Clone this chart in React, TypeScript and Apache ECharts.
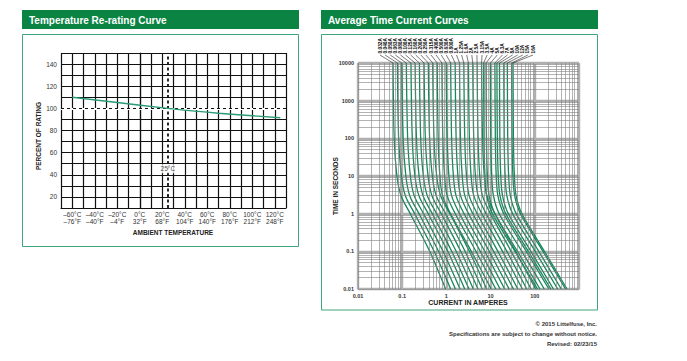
import React, { useEffect, useRef } from "react";
import * as echarts from "echarts";

// ---- Temperature re-rating data ----
const tempC = [-60, -40, -20, 0, 20, 40, 60, 80, 100, 120];
const tempF = [-76, -40, -4, 32, 68, 104, 140, 176, 212, 248];
const pctTicks = [20, 40, 60, 80, 100, 120, 140];
const rerateTemp = [-60, -20, 25, 70, 125];
const reratePct = [110, 105.3, 100, 95.6, 91.5];

// ---- Time current curves ----
const timeTicks = [0.01, 0.1, 1, 10, 100, 1000, 10000];
const currentTicks = [0.01, 0.1, 1, 10, 100];
const ratings = [
  "0.032A", "0.040A", "0.050A", "0.063A", "0.080A", "0.100A", "0.125A", "0.160A",
  "0.200A", "0.250A", "0.315A", "0.400A", "0.500A", "0.630A", "0.800A",
  "1A", "1.25A", "1.6A", "2A", "2.5A", "3.15A", "3.5A", "4A", "5A", "6.3A", "7A",
  "8A", "10A", "12A", "15A", "16A",
];
// time points (seconds) at which each curve's current is read
const times = [10000, 100, 10, 3, 1, 0.1, 0.01];
// current (A) of each curve at the times above
const curveCurrents = [
  [0.062, 0.066, 0.076, 0.094, 0.152, 0.419, 0.96],
  [0.078, 0.083, 0.096, 0.118, 0.191, 0.527, 1.25],
  [0.098, 0.105, 0.121, 0.148, 0.24, 0.662, 1.6],
  [0.124, 0.133, 0.153, 0.187, 0.304, 0.838, 2.04],
  [0.158, 0.169, 0.194, 0.239, 0.387, 1.07, 2.6],
  [0.196, 0.21, 0.241, 0.296, 0.48, 1.32, 3.25],
  [0.245, 0.262, 0.301, 0.37, 0.6, 1.66, 4.07],
  [0.312, 0.334, 0.384, 0.471, 0.764, 2.11, 5.18],
  [0.39, 0.417, 0.48, 0.589, 0.956, 2.64, 6.47],
  [0.49, 0.524, 0.603, 0.74, 1.2, 3.31, 8.13],
  [0.62, 0.651, 0.713, 0.818, 1.24, 3.66, 10.3],
  [0.79, 0.83, 0.909, 1.04, 1.58, 4.66, 13.1],
  [0.99, 1.04, 1.14, 1.31, 1.98, 5.84, 16.4],
  [1.25, 1.31, 1.44, 1.65, 2.5, 7.38, 20.8],
  [1.58, 1.66, 1.82, 2.09, 3.16, 9.32, 26.2],
  [1.98, 2.08, 2.28, 2.61, 3.96, 11.7, 32.9],
  [2.48, 2.6, 2.85, 3.27, 4.96, 14.6, 41.2],
  [3.15, 3.31, 3.62, 4.16, 6.3, 18.6, 52.3],
  [3.95, 4.15, 4.54, 5.21, 7.9, 23.3, 65.6],
  [4.95, 5.2, 5.69, 6.53, 9.9, 29.2, 82.2],
  [6.25, 6.56, 7.19, 8.25, 12.5, 36.9, 104],
  [6.95, 7.09, 7.44, 8.13, 11.0, 35.7, 115],
  [7.9, 8.06, 8.45, 9.24, 12.5, 40.5, 131],
  [9.9, 10.1, 10.6, 11.6, 15.6, 50.8, 164],
  [12.5, 12.8, 13.4, 14.6, 19.8, 64.1, 208],
  [13.9, 14.2, 14.9, 16.3, 22.0, 71.3, 231],
  [15.9, 16.2, 17.0, 18.6, 25.1, 81.6, 264],
  [19.9, 20.3, 21.3, 23.3, 31.4, 102, 330],
  [23.9, 24.4, 25.6, 28.0, 37.8, 123, 397],
  [29.9, 30.5, 32.0, 35.0, 47.2, 153, 496],
  [32.2, 32.8, 34.5, 37.7, 50.9, 165, 535],
];

const GREEN = "#0b8443";
const CURVE = "#17865c";
const BORDER = "#3ea57c";
const FONT = "Liberation Sans";

const dash = (n: number) => (n < 0 ? "\u2013" + Math.abs(n) : String(n));

function minorValues(from: number, to: number) {
  const out: number[] = [];
  for (let d = from; d < to * 0.999; d *= 10) {
    for (let k = 2; k <= 9; k++) out.push(+(d * k).toPrecision(3));
  }
  return out;
}

export default function App() {
  const ref = useRef<HTMLDivElement>(null);
  useEffect(() => {
    document.body.style.margin = "0";
    const chart = echarts.init(ref.current!, null, { renderer: "svg" });

    const minorX = minorValues(0.01, 1000);
    const minorY = minorValues(0.01, 10000);

    const logLabel = (v: number) => String(+Number(v).toPrecision(6));

    const series: any[] = [
      {
        type: "line",
        xAxisIndex: 0,
        yAxisIndex: 0,
        data: rerateTemp.map((t, i) => [t, reratePct[i]]),
        symbol: "none",
        smooth: 0.3,
        lineStyle: { color: "#2a9a78", width: 1.4 },
        z: 5,
        markLine: {
          silent: true,
          symbol: "none",
          label: { show: false },
          data: [
            { yAxis: 100, lineStyle: { color: "#fff", width: 2.2, type: "solid" } },
            { yAxis: 100, lineStyle: { color: "#111", width: 1.2, type: [3, 3] } },
            { xAxis: 25, lineStyle: { color: "#111", width: 1.8, type: [3, 2.5] } },
          ],
        },
      },
      {
        type: "scatter",
        xAxisIndex: 0,
        yAxisIndex: 0,
        data: [[25, 45.5]],
        symbolSize: 0,
        z: 6,
        label: {
          show: true,
          position: "inside",
          formatter: "25\u00b0C",
          fontSize: 6.5,
          fontFamily: FONT,
          color: "#222",
          backgroundColor: "#fff",
          padding: [1, 1],
        },
      },
      {
        type: "line",
        xAxisIndex: 1,
        yAxisIndex: 1,
        data: [],
        z: 1,
        markLine: {
          silent: true,
          symbol: "none",
          label: { show: false },
          lineStyle: { color: "#808080", width: 0.6, type: "solid" },
          data: [
            ...minorX.map((v) => ({ xAxis: v })),
            ...minorY.map((v) => ({ yAxis: v })),
          ],
        },
      },
      ...curveCurrents.map((cur, i) => ({
        type: "line",
        name: ratings[i],
        xAxisIndex: 1,
        yAxisIndex: 1,
        data: cur.map((c, j) => [c, times[j]]),
        symbol: "none",
        smooth: 0.3,
        lineStyle: { color: CURVE, width: 1.3 },
        z: 4,
      })),
    ];

    const option: any = {
      animation: false,
      backgroundColor: "#fff",
      grid: [
        { left: 61, top: 53, width: 225, height: 155 },
        { left: 358, top: 63, width: 221, height: 226 },
      ],
      xAxis: [
        {
          gridIndex: 0,
          type: "value",
          min: -70,
          max: 130,
          interval: 10,
          axisLine: { show: true, lineStyle: { color: "#111", width: 1.2 } },
          axisTick: { show: false },
          splitLine: { show: true, lineStyle: { color: "#111", width: 1.2 } },
          axisLabel: {
            fontSize: 6.5,
            lineHeight: 7,
            margin: 3,
            color: "#333",
            fontFamily: FONT,
            formatter: (v: number) => {
              const i = tempC.indexOf(Math.round(v));
              if (i < 0) return "";
              return `${dash(tempC[i])}\u00b0C\n${dash(tempF[i])}\u00b0F`;
            },
          },
        },
        {
          gridIndex: 1,
          type: "log",
          logBase: 10,
          min: 0.01,
          max: 1000,
          splitNumber: 5,
          axisLine: { show: true, lineStyle: { color: "#999", width: 1 } },
          axisTick: { show: false },
          minorTick: { show: false },
          splitLine: { show: true, lineStyle: { color: "#b0b0b0", width: 2.4 } },
          axisLabel: {
            fontSize: 5.5,
            fontWeight: "bold",
            margin: 4,
            color: "#333",
            fontFamily: FONT,
            formatter: (v: number) =>
              currentTicks.some((t) => Math.abs(t - v) / t < 1e-6) ? logLabel(v) : "",
          },
        },
      ],
      yAxis: [
        {
          gridIndex: 0,
          type: "value",
          min: 10,
          max: 150,
          interval: 10,
          axisLine: { show: true, lineStyle: { color: "#111", width: 1.2 } },
          axisTick: { show: false },
          splitLine: { show: true, lineStyle: { color: "#111", width: 1.2 } },
          axisLabel: {
            fontSize: 6.5,
            margin: 4,
            color: "#333",
            fontFamily: FONT,
            formatter: (v: number) => (pctTicks.includes(v) ? String(v) : ""),
          },
        },
        {
          gridIndex: 1,
          type: "log",
          logBase: 10,
          min: 0.01,
          max: 10000,
          splitNumber: 6,
          axisLine: { show: true, lineStyle: { color: "#999", width: 1 } },
          axisTick: { show: false },
          minorTick: { show: false },
          splitLine: { show: true, lineStyle: { color: "#b0b0b0", width: 2.4 } },
          axisLabel: {
            fontSize: 5.5,
            fontWeight: "bold",
            margin: 4,
            color: "#333",
            fontFamily: FONT,
            formatter: (v: number) =>
              timeTicks.some((t) => Math.abs(t - v) / t < 1e-6) ? logLabel(v) : "",
          },
        },
      ],
      series,
    };
    chart.setOption(option);

    const txt = (
      text: string,
      x: number,
      y: number,
      size: number,
      opts: any = {}
    ) => ({
      type: "text",
      x,
      y,
      rotation: opts.rotation || 0,
      z: 20,
      style: {
        text,
        fill: opts.fill || "#222",
        fontSize: size,
        fontWeight: opts.weight || "bold",
        fontFamily: FONT,
        align: opts.align || "center",
        verticalAlign: "middle",
      },
    });

    const graphics: any[] = [
      { type: "rect", z: 10, shape: { x: 22, y: 10, width: 277, height: 19 }, style: { fill: GREEN } },
      { type: "rect", z: 10, shape: { x: 321, y: 10, width: 277, height: 19 }, style: { fill: GREEN } },
      txt("Temperature Re-rating Curve", 29, 20, 10, { fill: "#fff", align: "left" }),
      txt("Average Time Current Curves", 328, 20, 10, { fill: "#fff", align: "left" }),
      {
        type: "rect",
        z: 10,
        shape: { x: 22.5, y: 34.5, width: 276, height: 212 },
        style: { fill: "none", stroke: BORDER, lineWidth: 1 },
      },
      {
        type: "rect",
        z: 10,
        shape: { x: 321.5, y: 34.5, width: 276, height: 275.5 },
        style: { fill: "none", stroke: BORDER, lineWidth: 1 },
      },
      txt("PERCENT OF RATING", 38, 136, 6.5, { rotation: Math.PI / 2 }),
      txt("AMBIENT TEMPERATURE", 173, 232, 6.5),
      txt("TIME IN SECONDS", 335, 186, 6.5, { rotation: Math.PI / 2 }),
      txt("CURRENT IN AMPERES", 468, 302, 7),
      txt("\u00a9 2015 Littelfuse, Inc.", 597, 324, 6, { align: "right", fill: "#333" }),
      txt("Specifications are subject to change without notice.", 597, 334, 6, { align: "right", fill: "#333" }),
      txt("Revised: 02/23/15", 597, 344, 6, { align: "right", fill: "#333" }),
    ];

    const n = ratings.length;
    const lx0 = 380;
    const lx1 = 533;
    curveCurrents.forEach((cur, i) => {
      const p = chart.convertToPixel({ gridIndex: 1 } as any, [cur[0], times[0]]) as number[];
      const lx = lx0 + ((lx1 - lx0) * i) / (n - 1);
      graphics.push({
        type: "line",
        z: 12,
        shape: { x1: lx, y1: 55, x2: p[0], y2: p[1] },
        style: { stroke: "#222", lineWidth: 0.6 },
      });
      graphics.push({
        type: "text",
        z: 12,
        x: lx,
        y: 53.5,
        rotation: Math.PI / 2,
        style: {
          text: ratings[i],
          fill: "#111",
          fontSize: 4.8,
          fontWeight: "bold",
          fontFamily: FONT,
          align: "left",
          verticalAlign: "middle",
        },
      });
    });

    chart.setOption({ graphic: graphics });
    return () => chart.dispose();
  }, []);
  return (
    <div
      ref={ref}
      style={{ position: "absolute", left: 0, top: 0, width: 687, height: 361, background: "#fff" }}
    />
  );
}
